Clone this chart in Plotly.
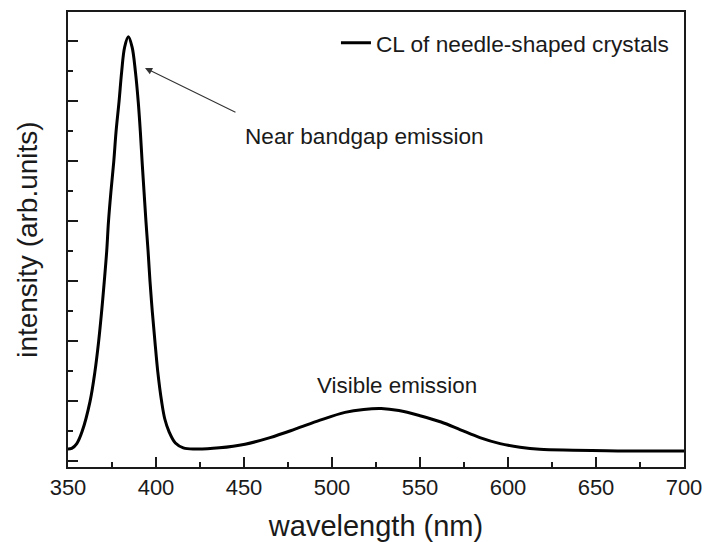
import plotly.graph_objects as go

# ---- data ----
wavelength_nm = [350, 352.1, 355.0, 358.0, 362.5, 365.3, 367.4, 369.1, 370.6, 372.0,
                 373.0, 374.4, 376.0, 377.3, 379.0, 380.5, 382.2, 384.3, 386.4, 388.3,
                 389.9, 391.1, 392.1, 393.2, 394.3, 395.5, 396.6, 397.9, 399.4, 401.0,
                 403.2, 405.0, 407.4, 411.0, 415.5, 422.0, 436.0, 450.6, 464.8, 479.0,
                 493.2, 507.4, 518.0, 528.0, 538.0, 550.0, 562.0, 573.0, 584.0, 595.5,
                 606.8, 618.0, 637.0, 656.0, 675.0, 700.0]
intensity = [0.20, 0.21, 0.29, 0.49, 0.99, 1.49, 1.99, 2.49, 2.99, 3.50,
             3.99, 4.49, 4.99, 5.49, 5.99, 6.49, 6.90, 7.07, 6.90, 6.49,
             5.99, 5.49, 4.99, 4.49, 3.99, 3.50, 2.99, 2.49, 1.99, 1.49,
             0.99, 0.70, 0.49, 0.30, 0.22, 0.20, 0.22, 0.28, 0.39, 0.53,
             0.68, 0.81, 0.86, 0.875, 0.84, 0.755, 0.65, 0.52, 0.39, 0.29,
             0.23, 0.195, 0.18, 0.17, 0.167, 0.165]

series_name = "CL of needle-shaped crystals"
x_tick_values = [350, 400, 450, 500, 550, 600, 650, 700]
x_tick_labels = ["350", "400", "450", "500", "550", "600", "650", "700"]
y_major_ticks = [0, 1, 2, 3, 4, 5, 6, 7]

FONT = "Arial, Liberation Sans, sans-serif"
INK = "#1a1a1a"

fig = go.Figure()
fig.add_trace(go.Scatter(
    x=wavelength_nm, y=intensity, mode="lines", name=series_name,
    line=dict(color="black", width=3, shape="spline", smoothing=1.0),
))

axis_common = dict(
    showline=True, linecolor=INK, linewidth=2, mirror=True,
    showgrid=False, zeroline=False, ticks="inside", tickcolor=INK,
    tickwidth=1.5, ticklen=10, automargin=False, layer="above traces",
)

fig.update_xaxes(
    **axis_common, range=[350, 700], tickmode="array",
    tickvals=x_tick_values, ticktext=x_tick_labels,
    tickfont=dict(family=FONT, size=22, color=INK),
    minor=dict(ticks="inside", ticklen=5, tickwidth=1.5, tickcolor=INK, dtick=25,
               tick0=350, showgrid=False),
    title=dict(text="wavelength (nm)", font=dict(family=FONT, size=29, color=INK),
               standoff=20),
)
fig.update_yaxes(
    **axis_common, range=[-0.1, 7.483], tickmode="array",
    tickvals=y_major_ticks, showticklabels=False,
    minor=dict(ticks="inside", ticklen=5, tickwidth=1.5, tickcolor=INK, dtick=0.5,
               tick0=0, showgrid=False),
)

# y-axis title placed as rotated text (plotly reserves extra room otherwise)
fig.add_annotation(
    x=-0.066, y=0.5, xref="paper", yref="paper", text="intensity (arb.units)",
    textangle=-90, showarrow=False, xanchor="center", yanchor="middle",
    font=dict(family=FONT, size=28, color=INK),
)

fig.add_annotation(
    x=393.75, y=6.55, ax=446.0, ay=5.8, xref="x", yref="y", axref="x", ayref="y",
    text="", showarrow=True, arrowhead=2, arrowsize=1.3, arrowwidth=1.1,
    arrowcolor="#333333",
)
fig.add_annotation(
    x=449.4, y=5.4, xref="x", yref="y", text="Near bandgap emission",
    showarrow=False, xanchor="left", yanchor="middle",
    font=dict(family=FONT, size=22.6, color=INK),
)
fig.add_annotation(
    x=490.3, y=1.26, xref="x", yref="y", text="Visible emission",
    showarrow=False, xanchor="left", yanchor="middle",
    font=dict(family=FONT, size=22.4, color=INK),
)

fig.update_layout(
    width=704, height=542,
    margin=dict(l=68, r=20, t=12, b=75, autoexpand=False),
    paper_bgcolor="white", plot_bgcolor="white",
    showlegend=True,
    legend=dict(x=0.435, y=0.932, xanchor="left", yanchor="middle",
                bgcolor="rgba(0,0,0,0)", borderwidth=0,
                font=dict(family=FONT, size=22.7, color=INK)),
)

# remove the browser's default 8px page margin so the figure sits at (0, 0)
fig.write_html(
    "out.html",
    config={"displayModeBar": False},
    post_script="document.body.style.margin='0';document.body.style.overflow='hidden';",
)
